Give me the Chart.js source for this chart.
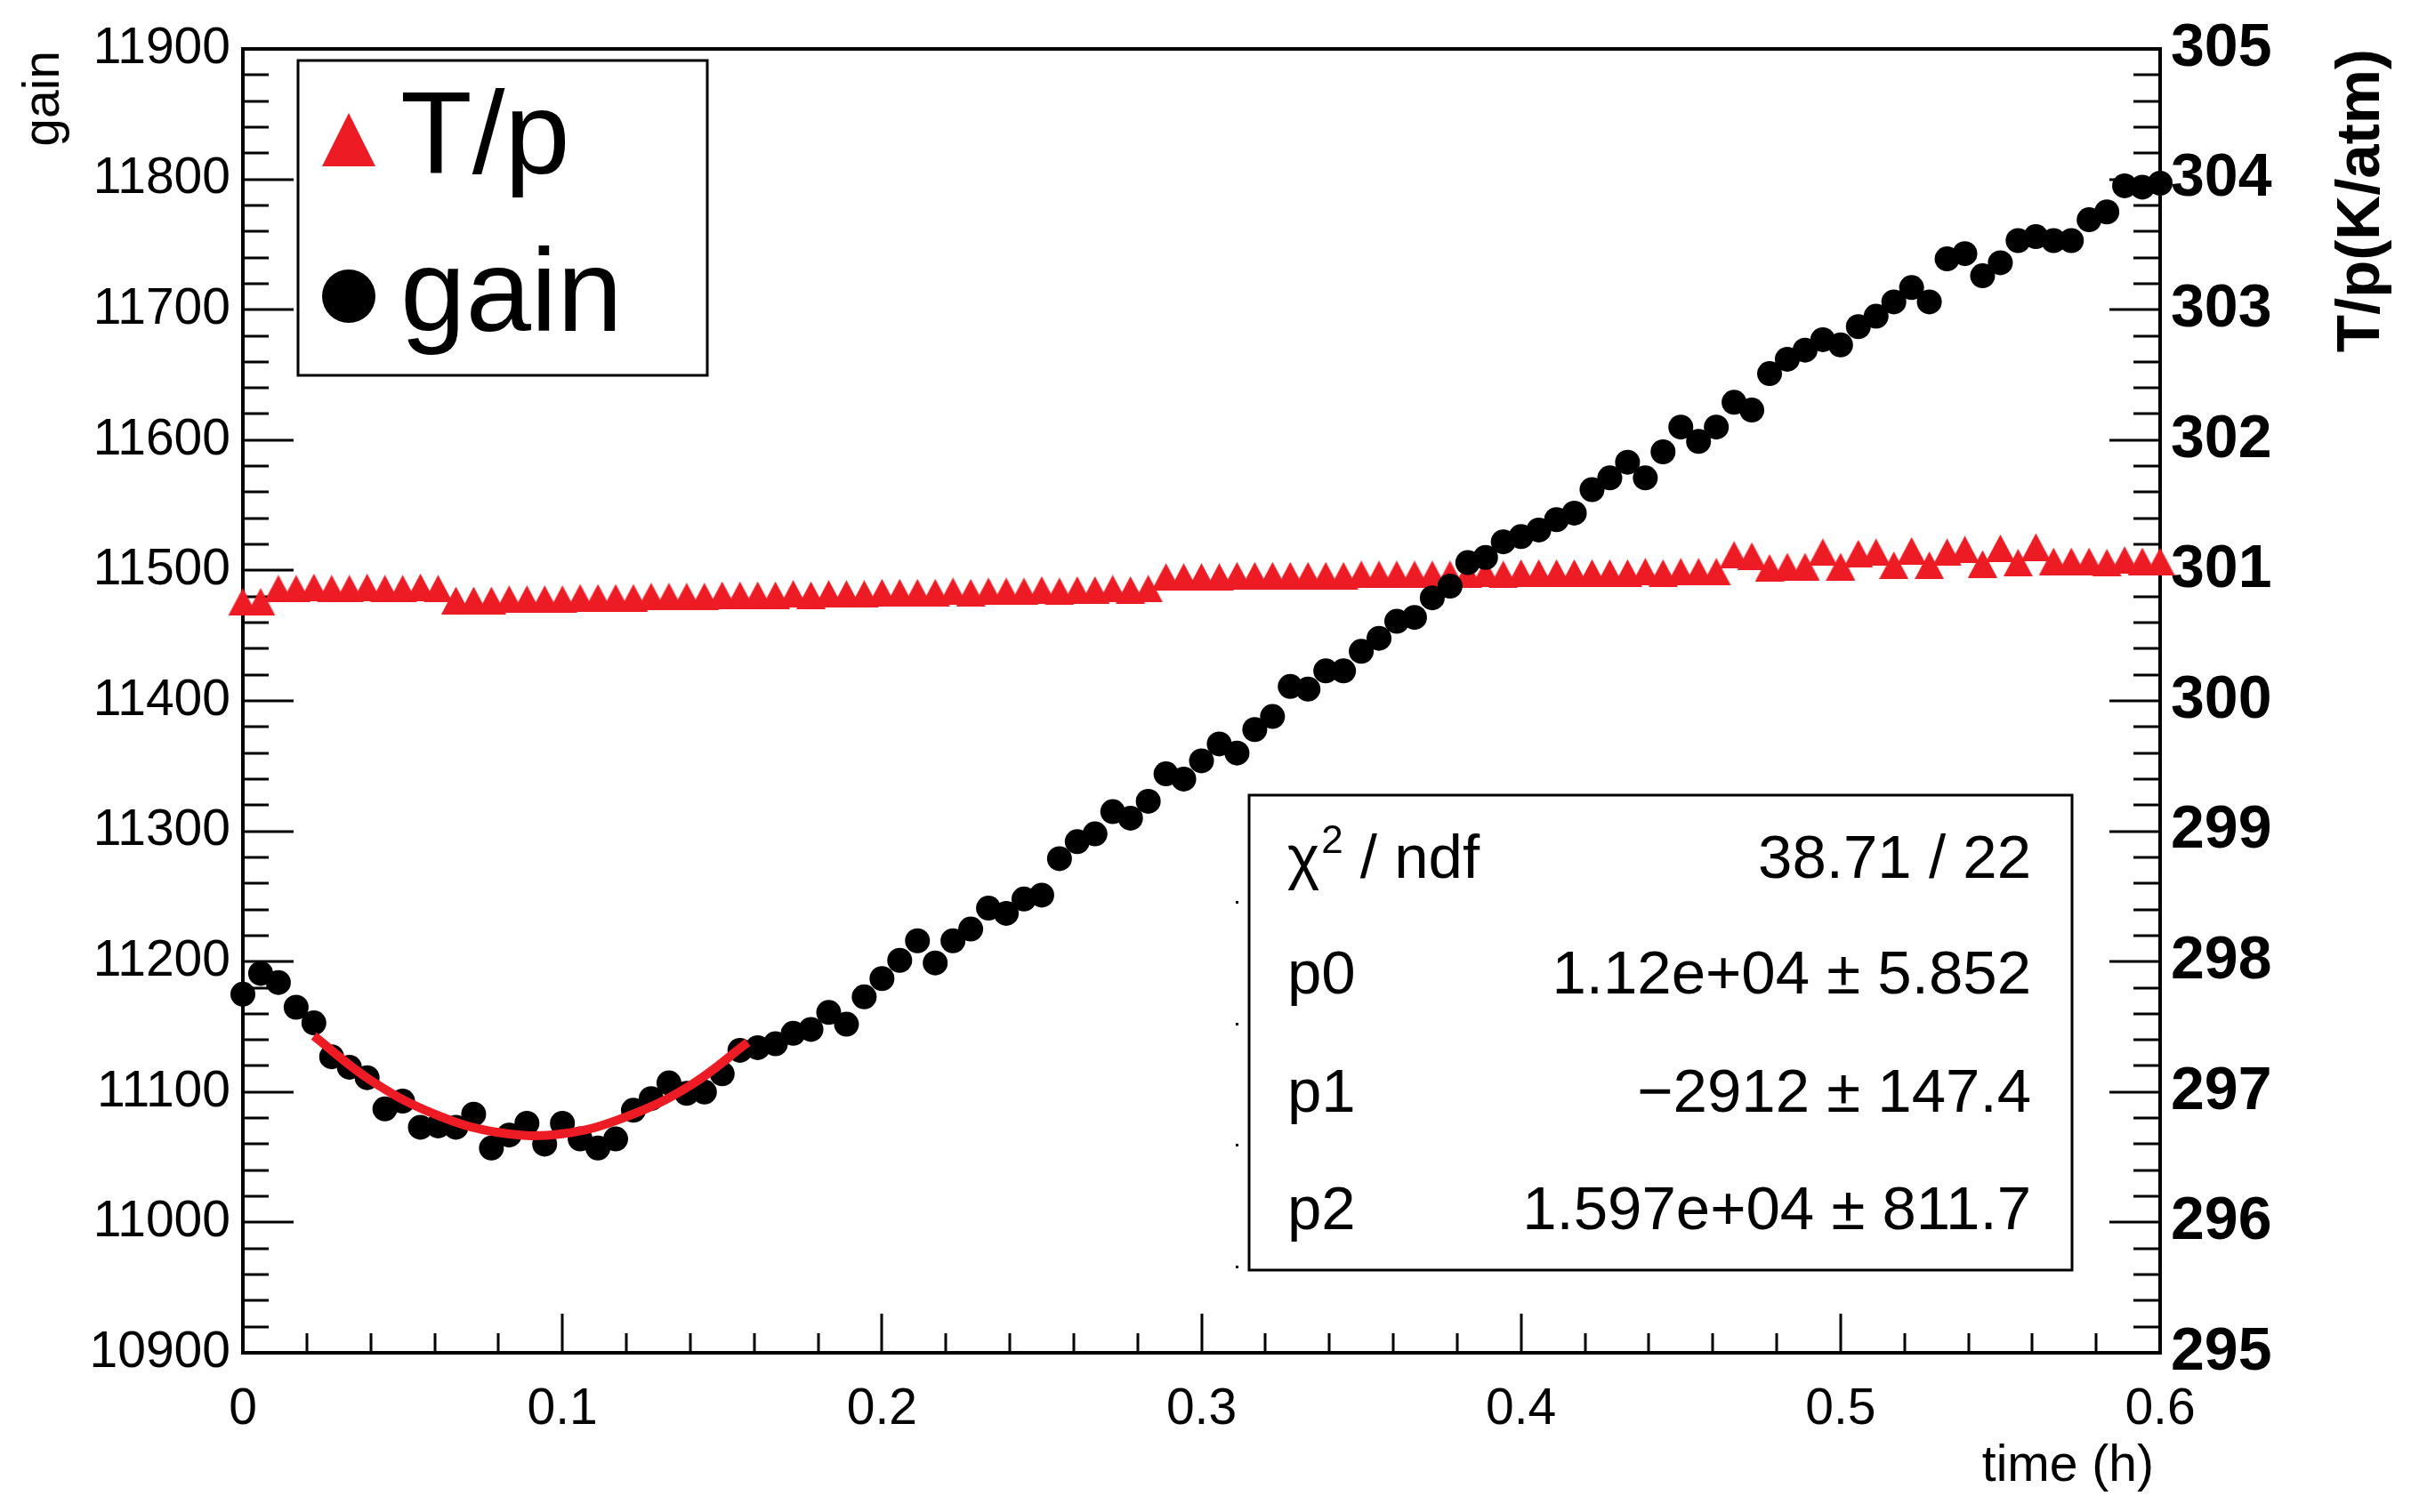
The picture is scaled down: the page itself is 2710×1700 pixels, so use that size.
<!DOCTYPE html>
<html>
<head>
<meta charset="utf-8">
<script src="https://cdn.jsdelivr.net/npm/chart.js@4.4.1/dist/chart.umd.min.js"></script>
<style>
  html, body { margin: 0; padding: 0; background: #fff; }
  canvas { display: block; }
</style>
</head>
<body>
<canvas id="gainChart" width="2710" height="1700"></canvas>
<script>
// measurement times, seconds (one reading every 20 s)
const timeSec = [
  0, 20, 40, 60, 80, 100, 120, 140, 160, 180, 200, 220,
  240, 260, 280, 300, 320, 340, 360, 380, 400, 420, 440, 460,
  480, 500, 520, 540, 560, 580, 600, 620, 640, 660, 680, 700,
  720, 740, 760, 780, 800, 820, 840, 860, 880, 900, 920, 940,
  960, 980, 1000, 1020, 1040, 1060, 1080, 1100, 1120, 1140, 1160, 1180,
  1200, 1220, 1240, 1260, 1280, 1300, 1320, 1340, 1360, 1380, 1400, 1420,
  1440, 1460, 1480, 1500, 1520, 1540, 1560, 1580, 1600, 1620, 1640, 1660,
  1680, 1700, 1720, 1740, 1760, 1780, 1800, 1820, 1840, 1860, 1880, 1900,
  1920, 1940, 1960, 1980, 2000, 2020, 2040, 2060, 2080, 2100, 2120, 2140,
  2160
];

const gainValues = [
  11175, 11191, 11184, 11165, 11153, 11127, 11119, 11111, 11087, 11093, 11073, 11074,
  11073, 11083, 11057, 11067, 11076, 11060, 11076, 11064, 11057, 11064, 11086, 11095,
  11107, 11099, 11100, 11114, 11132, 11134, 11137, 11145, 11148, 11161, 11152, 11173,
  11187, 11201, 11216, 11199, 11216, 11225, 11241, 11237, 11248, 11251, 11279, 11292,
  11298, 11315, 11310, 11323, 11344, 11340, 11354, 11367, 11360, 11378, 11388, 11411,
  11409, 11423, 11423, 11438, 11448, 11461, 11464, 11479, 11488, 11506, 11510, 11522,
  11526, 11531, 11539, 11544, 11562, 11571, 11583, 11571, 11591, 11610, 11599, 11610,
  11629, 11623, 11651, 11662, 11669, 11677, 11673, 11687, 11695, 11706, 11717, 11706,
  11739, 11743, 11726, 11736, 11753, 11756, 11753, 11753, 11769, 11775, 11795, 11794,
  11797
];

const tpValues = [
  300.76, 300.76, 300.86, 300.86, 300.87, 300.86, 300.86, 300.87, 300.86, 300.86, 300.87, 300.86,
  300.77, 300.77, 300.77, 300.78, 300.78, 300.78, 300.78, 300.79, 300.79, 300.79, 300.79, 300.80,
  300.80, 300.80, 300.80, 300.81, 300.81, 300.81, 300.81, 300.82, 300.81, 300.82, 300.82, 300.82,
  300.83, 300.83, 300.83, 300.83, 300.84, 300.83, 300.84, 300.84, 300.84, 300.85, 300.84, 300.85,
  300.85, 300.86, 300.85, 300.86, 300.95, 300.95, 300.95, 300.95, 300.96, 300.96, 300.96, 300.96,
  300.96, 300.96, 300.96, 300.97, 300.97, 300.97, 300.97, 300.97, 300.97, 300.97, 300.98, 300.97,
  300.98, 300.98, 300.98, 300.98, 300.98, 300.98, 300.98, 300.99, 300.98, 300.99, 300.99, 300.99,
  301.12, 301.11, 301.02, 301.03, 301.03, 301.14, 301.03, 301.13, 301.14, 301.04, 301.15, 301.04,
  301.14, 301.16, 301.05, 301.17, 301.06, 301.18, 301.07, 301.07, 301.07, 301.06, 301.08, 301.07,
  301.07
];

// pol2 fit curve (h, gain)
const fitTime = [0.0222, 0.04, 0.06, 0.08, 0.10, 0.12, 0.14, 0.158];
const fitGain = [11143, 11109, 11083, 11069, 11068, 11081, 11105, 11138];

const seriesNames = ['T/p', 'gain'];
const statLabels = ['p0', 'p1', 'p2'];
const statValues = ['38.71 / 22', '1.12e+04 \u00b1 5.852', '\u22122912 \u00b1 147.4', '1.597e+04 \u00b1 811.7'];

const RED = 'rgb(237,28,36)';
const FONT = '"Liberation Sans", Arial, Helvetica, sans-serif';

const gainPoints = timeSec.map((s, i) => ({ x: s / 3600, y: gainValues[i] }));
const tpPoints = timeSec.map((s, i) => ({ x: s / 3600, y: tpValues[i] }));
const fitPoints = fitTime.map((t, i) => ({ x: t, y: fitGain[i] }));

// ROOT style triangle: centred on its bounding box
function triangleMarker(w, h, color) {
  const c = document.createElement('canvas');
  c.width = w; c.height = h;
  const g = c.getContext('2d');
  g.fillStyle = color;
  g.beginPath();
  g.moveTo(w / 2, 0);
  g.lineTo(w, h);
  g.lineTo(0, h);
  g.closePath();
  g.fill();
  return c;
}

const frameTicks = {
  id: 'frameTicks',
  beforeDatasetsDraw(chart) {
    const { ctx, chartArea: a, scales } = chart;
    ctx.save();
    ctx.strokeStyle = '#000';
    ctx.lineWidth = 3;
    ctx.beginPath();
    for (let k = 0; k <= 50; k++) {
      const y = Math.round(scales.y.getPixelForValue(10900 + 20 * k));
      ctx.moveTo(a.left, y);
      ctx.lineTo(a.left + (k % 5 === 0 ? 57 : 29), y);
    }
    for (let k = 0; k <= 50; k++) {
      const y = Math.round(scales.y2.getPixelForValue(295 + 0.2 * k));
      ctx.moveTo(a.right, y);
      ctx.lineTo(a.right - (k % 5 === 0 ? 57 : 30), y);
    }
    for (let k = 0; k <= 30; k++) {
      const x = Math.round(scales.x.getPixelForValue(0.02 * k));
      ctx.moveTo(x, a.bottom);
      ctx.lineTo(x, a.bottom - (k % 5 === 0 ? 44 : 22));
    }
    ctx.stroke();
    ctx.lineWidth = 4;
    ctx.strokeRect(a.left, a.top, a.right - a.left, a.bottom - a.top);
    ctx.restore();
  }
};

const boxesAndTitles = {
  id: 'boxesAndTitles',
  afterDraw(chart) {
    const { ctx, chartArea: a } = chart;
    ctx.save();
    ctx.fillStyle = '#000';

    // axis titles
    ctx.font = `57px ${FONT}`;
    ctx.textAlign = 'right';
    ctx.textBaseline = 'alphabetic';
    ctx.fillText('time (h)', a.right - 7, 1665);

    ctx.save();
    ctx.translate(50, 57);
    ctx.rotate(-Math.PI / 2);
    ctx.textAlign = 'right';
    ctx.textBaseline = 'middle';
    ctx.fillText('gain', 0, 0);
    ctx.restore();

    ctx.save();
    ctx.translate(2655, 55);
    ctx.rotate(-Math.PI / 2);
    ctx.font = `bold 69px ${FONT}`;
    ctx.textAlign = 'right';
    ctx.textBaseline = 'middle';
    ctx.fillText('T/p(K/atm)', 0, 0);
    ctx.restore();

    // legend
    const lx = a.left + 62, ly = a.top + 13;
    ctx.fillStyle = '#fff';
    ctx.fillRect(lx, ly, 460, 354);
    ctx.lineWidth = 3;
    ctx.strokeStyle = '#000';
    ctx.strokeRect(lx, ly, 460, 354);
    ctx.fillStyle = RED;
    ctx.beginPath();
    ctx.moveTo(lx + 57, ly + 59);
    ctx.lineTo(lx + 87, ly + 119);
    ctx.lineTo(lx + 27, ly + 119);
    ctx.closePath();
    ctx.fill();
    ctx.fillStyle = '#000';
    ctx.beginPath();
    ctx.arc(lx + 57, ly + 265, 30, 0, 2 * Math.PI);
    ctx.fill();
    ctx.font = `132px ${FONT}`;
    ctx.textAlign = 'left';
    ctx.textBaseline = 'alphabetic';
    ctx.fillText(seriesNames[0], lx + 115, ly + 127);
    ctx.fillText(seriesNames[1], lx + 115, ly + 304);

    // fit statistics box
    const sx = 1404, sy = 894, sw = 925, sh = 534;
    ctx.fillStyle = '#fff';
    ctx.fillRect(sx, sy, sw, sh);
    ctx.strokeRect(sx, sy, sw, sh);
    ctx.fillStyle = '#000';
    [1013, 1150, 1286, 1423].forEach(y => ctx.fillRect(sx - 15, y, 3, 3));
    const rows = [987, 1117, 1250, 1382];
    ctx.font = `69px ${FONT}`;
    ctx.textAlign = 'left';
    let x = sx + 43;
    ctx.fillText('\u03c7', x, rows[0]);
    x += ctx.measureText('\u03c7').width + 2;
    ctx.font = `44px ${FONT}`;
    ctx.fillText('2', x, rows[0] - 28);
    x += ctx.measureText('2').width;
    ctx.font = `69px ${FONT}`;
    ctx.fillText(' / ndf', x, rows[0]);
    statLabels.forEach((lab, i) => ctx.fillText(lab, sx + 43, rows[i + 1]));
    ctx.textAlign = 'right';
    statValues.forEach((val, i) => ctx.fillText(val, sx + sw - 46, rows[i]));
    ctx.restore();
  }
};

new Chart(document.getElementById('gainChart'), {
  type: 'scatter',
  data: {
    datasets: [
      {
        label: 'fit',
        type: 'line',
        data: fitPoints,
        yAxisID: 'y',
        borderColor: RED,
        borderWidth: 10,
        pointRadius: 0,
        tension: 0.4,
        fill: false,
        order: 0
      },
      {
        label: seriesNames[1],
        data: gainPoints,
        yAxisID: 'y',
        pointStyle: 'circle',
        pointRadius: 14,
        backgroundColor: '#000',
        borderWidth: 0,
        clip: false,
        order: 1
      },
      {
        label: seriesNames[0],
        data: tpPoints,
        yAxisID: 'y2',
        pointStyle: triangleMarker(33, 31, RED),
        pointRadius: 16,
        backgroundColor: RED,
        borderWidth: 0,
        clip: false,
        order: 2
      }
    ]
  },
  options: {
    responsive: false,
    animation: false,
    devicePixelRatio: 1,
    layout: { padding: { left: 0, right: 0, top: 55, bottom: 0 } },
    plugins: {
      legend: { display: false },
      tooltip: { enabled: false }
    },
    scales: {
      x: {
        type: 'linear',
        position: 'bottom',
        min: 0,
        max: 0.6,
        grid: { display: false, drawTicks: false },
        border: { display: false },
        ticks: {
          stepSize: 0.1,
          padding: 30,
          maxRotation: 0,
          autoSkip: false,
          color: '#000',
          font: { family: FONT, size: 57 },
          callback: v => +v.toFixed(1)
        },
        afterFit: s => { s.height = 179; }
      },
      y: {
        position: 'left',
        min: 10900,
        max: 11900,
        grid: { display: false, drawTicks: false },
        border: { display: false },
        ticks: {
          stepSize: 100,
          padding: 14,
          color: '#000',
          font: { family: FONT, size: 57 },
          callback: v => String(v)
        },
        afterFit: s => { s.width = 273; }
      },
      y2: {
        position: 'right',
        min: 295,
        max: 305,
        grid: { display: false, drawTicks: false },
        border: { display: false },
        ticks: {
          stepSize: 1,
          padding: 12,
          color: '#000',
          font: { family: FONT, size: 68, weight: 'bold' },
          callback: v => String(v)
        },
        afterFit: s => { s.width = 282; }
      }
    }
  },
  plugins: [frameTicks, boxesAndTitles]
});
</script>
</body>
</html>
